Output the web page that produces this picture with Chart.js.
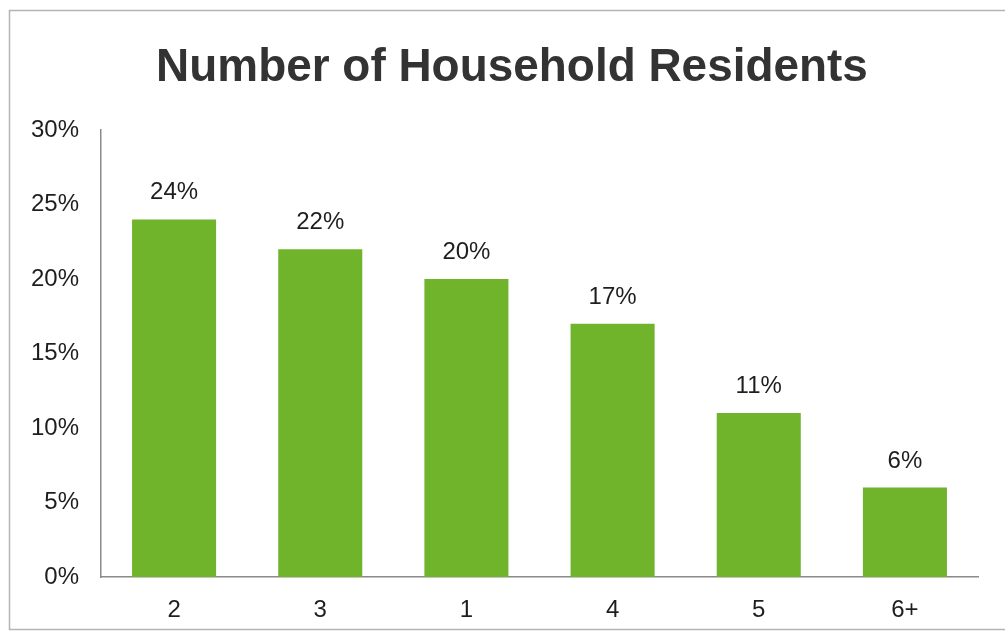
<!DOCTYPE html>
<html>
<head>
<meta charset="utf-8">
<script src="https://cdn.jsdelivr.net/npm/chart.js@4.4.1/dist/chart.umd.min.js"></script>
<style>
  html, body { margin: 0; padding: 0; background: #fff; }
  #wrap { position: relative; width: 1005px; height: 639px; }
</style>
</head>
<body>
<div id="wrap"><canvas id="chart" width="1005" height="639"></canvas></div>
<script>
// Household size categories, sorted by share
const categories = ['2', '3', '1', '4', '5', '6+'];
// Share of households (%)
const shares = [24, 22, 20, 17, 11, 6];
// Y axis range and step (%)
const yTicks = [0, 5, 10, 15, 20, 25, 30];
const chartTitle = 'Number of Household Residents';

const BAR_COLOR = '#70b42c';
const TEXT_COLOR = '#1e1e1e';
const AXIS_COLOR = '#8a8a8a';
const FONT = '"Liberation Sans", Arial, sans-serif';

// Thin frame around the whole figure, plus the heading
const framePlugin = {
  id: 'frame',
  beforeDraw(chart) {
    const ctx = chart.ctx;
    ctx.save();
    ctx.fillStyle = '#ffffff';
    ctx.fillRect(0, 0, chart.width, chart.height);
    ctx.strokeStyle = '#b4b4b4';
    ctx.lineWidth = 1.5;
    ctx.strokeRect(9.5, 10.5, 1010, 619);
    // heading, slightly condensed bold sans
    ctx.font = 'bold 47px ' + FONT;
    ctx.fillStyle = '#333333';
    ctx.textAlign = 'center';
    ctx.textBaseline = 'alphabetic';
    ctx.translate(512, 81);
    ctx.scale(0.977, 1);
    ctx.fillText(chartTitle, 0, 0);
    ctx.restore();
  }
};

// Value labels above each bar
const valueLabels = {
  id: 'valueLabels',
  afterDatasetsDraw(chart) {
    const ctx = chart.ctx;
    const meta = chart.getDatasetMeta(0);
    ctx.save();
    ctx.font = '24px ' + FONT;
    ctx.fillStyle = TEXT_COLOR;
    ctx.textAlign = 'center';
    ctx.textBaseline = 'alphabetic';
    meta.data.forEach((bar, i) => {
      ctx.fillText(shares[i] + '%', bar.x, bar.y - 20);
    });
    ctx.restore();
  }
};

new Chart(document.getElementById('chart'), {
  type: 'bar',
  data: {
    labels: categories,
    datasets: [{
      data: shares,
      backgroundColor: BAR_COLOR,
      borderWidth: 0,
      barPercentage: 0.575,
      categoryPercentage: 1.0
    }]
  },
  options: {
    responsive: false,
    animation: false,
    devicePixelRatio: 1,
    layout: { padding: { top: 130, right: 27, bottom: 14, left: 0 } },
    plugins: {
      legend: { display: false },
      tooltip: { enabled: false },
      title: { display: false }
    },
    scales: {
      x: {
        afterFit(scale) { scale.height = 48; },
        grid: { display: false, drawTicks: false },
        border: { display: true, color: AXIS_COLOR, width: 1.5 },
        ticks: {
          color: TEXT_COLOR,
          padding: 19,
          font: { family: FONT, size: 24 }
        }
      },
      y: {
        min: yTicks[0],
        max: yTicks[yTicks.length - 1],
        afterFit(scale) { scale.width = 101; },
        afterBuildTicks(scale) { scale.ticks = yTicks.map(v => ({ value: v })); },
        grid: { display: false, drawTicks: false },
        border: { display: true, color: AXIS_COLOR, width: 1.5 },
        ticks: {
          color: TEXT_COLOR,
          padding: 22,
          font: { family: FONT, size: 24 },
          callback: v => v + '%'
        }
      }
    }
  },
  plugins: [framePlugin, valueLabels]
});
</script>
</body>
</html>
